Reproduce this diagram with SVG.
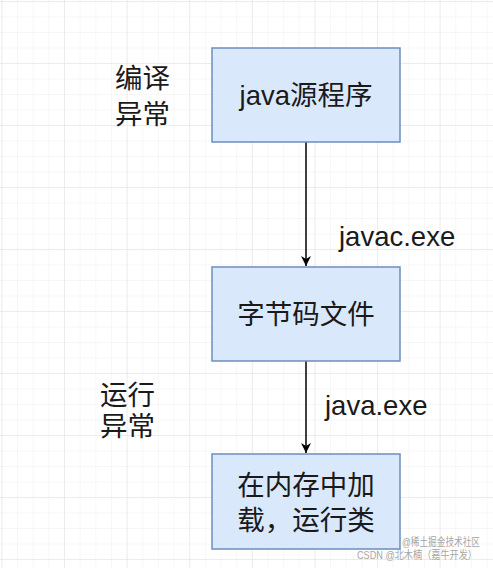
<svg xmlns="http://www.w3.org/2000/svg" width="493" height="568" viewBox="0 0 493 568">
<style>
.box{fill:#dae8fc;stroke:#6c8ebf;stroke-width:1.5}
.t{font-family:"Liberation Sans","Noto Sans CJK SC",sans-serif;font-size:27.5px;fill:#1a1a1a}
.c{text-anchor:middle}
.edge{stroke:#000;stroke-width:1.5;fill:none}
.wm{font-family:"Liberation Sans","Noto Sans CJK SC",sans-serif;font-size:11px;fill:#888;opacity:0.75}
</style>
<defs>
<pattern id="minor" x="2.4" y="2" width="15.65" height="15.5" patternUnits="userSpaceOnUse">
<path d="M15.65 0V15.5M0 15.5H15.65" stroke="#f0f0f0" stroke-width="1" fill="none"/>
</pattern>
<pattern id="major" x="2.4" y="2" width="62.6" height="62" patternUnits="userSpaceOnUse">
<path d="M62.6 0V62M0 62H62.6" stroke="#e2e2e2" stroke-width="1" fill="none"/>
</pattern>
<marker id="arr" viewBox="0 0 10 10" refX="10" refY="5" markerWidth="10" markerHeight="10" markerUnits="userSpaceOnUse" orient="auto">
<path d="M0 0L10 5L0 10L3 5Z" fill="#000"/>
</marker>
</defs>
<rect width="493" height="568" fill="#fff"/>
<rect width="493" height="568" fill="url(#minor)"/>
<rect width="493" height="568" fill="url(#major)"/>
<g id="edges">
<line class="edge" x1="306" y1="142" x2="306" y2="266" marker-end="url(#arr)"/>
<line class="edge" x1="306" y1="361" x2="306" y2="453" marker-end="url(#arr)"/>
<text class="t" x="339" y="246">javac.exe</text>
<text class="t" x="325" y="415">java.exe</text>
</g>
<g id="n1">
<rect class="box" x="212" y="48" width="188" height="94"/>
<text class="t c" x="306" y="105">java源程序</text>
</g>
<g id="n2">
<rect class="box" x="212" y="267" width="188" height="94"/>
<text class="t c" x="306" y="324">字节码文件</text>
</g>
<g id="n3">
<rect class="box" x="212" y="454" width="188" height="95"/>
<text class="t c" x="306" y="495">在内存中加</text>
<text class="t c" x="306" y="530">载，运行类</text>
</g>
<g id="l1">
<text class="t" x="115" y="88">编译</text>
<text class="t" x="115" y="124">异常</text>
</g>
<g id="l2">
<text class="t" x="100" y="405">运行</text>
<text class="t" x="100" y="436">异常</text>
</g>
<g id="watermark">
<text class="wm" x="402" y="546" textLength="78" lengthAdjust="spacingAndGlyphs">@稀土掘金技术社区</text>
<text class="wm" x="357" y="559" textLength="120" lengthAdjust="spacingAndGlyphs">CSDN @北木楠（嘉牛开发）</text>
</g>
</svg>
